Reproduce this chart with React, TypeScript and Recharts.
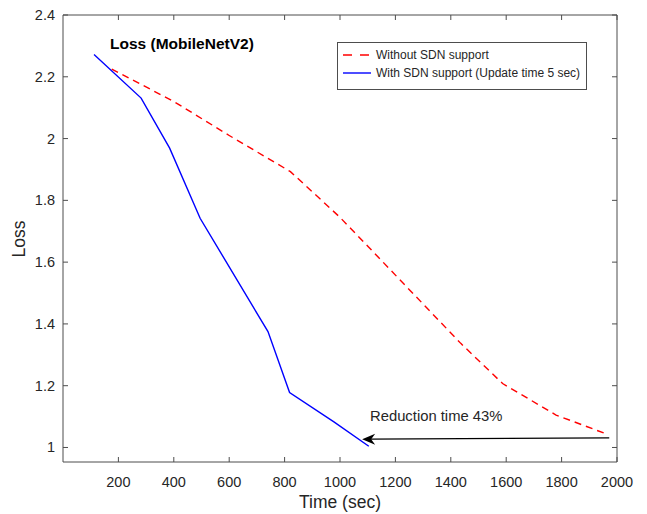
import React from "react";
import {
  LineChart,
  Line,
  XAxis,
  YAxis,
  ReferenceLine,
  ReferenceDot,
} from "recharts";

// Loss vs time
const sdnTime = [112, 282, 385, 495, 740, 818, 978, 1104];
const sdnLoss = [2.272, 2.131, 1.969, 1.742, 1.375, 1.178, 1.083, 1.004];

const baseTime = [176, 400, 600, 821, 1000, 1103, 1436, 1587, 1780, 1967];
const baseLoss = [2.225, 2.12, 2.01, 1.893, 1.745, 1.649, 1.337, 1.207, 1.105, 1.042];

const xTicks = [200, 400, 600, 800, 1000, 1200, 1400, 1600, 1800, 2000];
const yTicks = [1, 1.2, 1.4, 1.6, 1.8, 2, 2.2, 2.4];

const arrowStart = { x: 1972, y: 1.031 };
const arrowEnd = { x: 1080, y: 1.027 };

const W = 647;
const H = 514;
const PLOT = { left: 63, right: 617, top: 15, bottom: 462 };
const AXIS = "#4d4d4d";
const TEXT = "#262626";
const FONT = "'Liberation Sans', Arial, Helvetica, sans-serif";

const sdnData = sdnTime.map((t, i) => ({ t, loss: sdnLoss[i] }));
const baseData = baseTime.map((t, i) => ({ t, loss: baseLoss[i] }));

function XTick(props: any) {
  const { x, payload } = props;
  return (
    <g>
      <line x1={x} x2={x} y1={PLOT.bottom} y2={PLOT.bottom - 5} stroke={AXIS} />
      <line x1={x} x2={x} y1={PLOT.top} y2={PLOT.top + 5} stroke={AXIS} />
      <text x={x} y={PLOT.bottom + 25} textAnchor="middle" fontSize={14.5} fill={TEXT} fontFamily={FONT}>
        {payload.value}
      </text>
    </g>
  );
}

function YTick(props: any) {
  const { y, payload } = props;
  return (
    <g>
      <line x1={PLOT.left} x2={PLOT.left + 5} y1={y} y2={y} stroke={AXIS} />
      <line x1={PLOT.right} x2={PLOT.right - 5} y1={y} y2={y} stroke={AXIS} />
      <text x={55} y={y + 5} textAnchor="end" fontSize={14.5} fill={TEXT} fontFamily={FONT}>
        {String(payload.value)}
      </text>
    </g>
  );
}

function ArrowHead(props: any) {
  const { cx, cy } = props;
  return (
    <path
      d={`M${cx},${cy} L${cx + 13},${cy - 5.5} L${cx + 9},${cy} L${cx + 13},${cy + 5.5} Z`}
      fill="#000"
    />
  );
}

export default function App() {
  return (
    <div style={{ position: "absolute", left: 0, top: 0, width: W, height: H, background: "#fff", fontFamily: FONT }}>
      <LineChart
        width={W}
        height={H}
        margin={{ top: PLOT.top, right: W - PLOT.right, bottom: 0, left: 0 }}
      >
        <XAxis
          dataKey="t"
          type="number"
          domain={[0, 2000]}
          ticks={xTicks}
          allowDataOverflow
          height={H - PLOT.bottom}
          tickLine={false}
          stroke={AXIS}
          tick={<XTick />}
        />
        <YAxis
          type="number"
          domain={[0.953, 2.4]}
          ticks={yTicks}
          allowDataOverflow
          width={PLOT.left}
          tickLine={false}
          stroke={AXIS}
          tick={<YTick />}
        />
        <ReferenceLine y={2.4} stroke={AXIS} ifOverflow="visible" />
        <ReferenceLine x={2000} stroke={AXIS} ifOverflow="visible" />
        <Line
          data={baseData}
          dataKey="loss"
          stroke="#ff0000"
          strokeWidth={1.4}
          strokeDasharray="7 5"
          dot={false}
          isAnimationActive={false}
        />
        <Line
          data={sdnData}
          dataKey="loss"
          stroke="#0000ff"
          strokeWidth={1.4}
          dot={false}
          isAnimationActive={false}
        />
        <ReferenceLine
          segment={[arrowStart, { x: arrowEnd.x + 25, y: arrowEnd.y }]}
          stroke="#000"
          strokeWidth={1.2}
          ifOverflow="visible"
        />
        <ReferenceDot
          x={arrowEnd.x}
          y={arrowEnd.y}
          ifOverflow="visible"
          shape={<ArrowHead />}
        />
      </LineChart>

      <div
        style={{
          position: "absolute",
          left: 110,
          top: 35,
          fontSize: 15.5,
          fontWeight: "bold",
          color: "#000",
          whiteSpace: "nowrap",
        }}
      >
        Loss (MobileNetV2)
      </div>

      <div
        style={{
          position: "absolute",
          left: 370,
          top: 408,
          fontSize: 14.8,
          color: TEXT,
          whiteSpace: "nowrap",
        }}
      >
        Reduction time 43%
      </div>

      <div
        style={{
          position: "absolute",
          left: 337,
          top: 42,
          width: 248,
          height: 46,
          border: `1px solid ${AXIS}`,
          background: "#fff",
          fontSize: 12,
          color: TEXT,
        }}
      >
        <div style={{ position: "absolute", left: 4, top: 5, display: "flex", alignItems: "center", whiteSpace: "nowrap" }}>
          <svg width={30} height={10}>
            <line x1={1} x2={29} y1={5} y2={5} stroke="#ff0000" strokeWidth={1.4} strokeDasharray="9 8" />
          </svg>
          <span style={{ marginLeft: 4 }}>Without SDN support</span>
        </div>
        <div style={{ position: "absolute", left: 4, top: 23, display: "flex", alignItems: "center", whiteSpace: "nowrap" }}>
          <svg width={30} height={10}>
            <line x1={1} x2={29} y1={5} y2={5} stroke="#0000ff" strokeWidth={1.4} />
          </svg>
          <span style={{ marginLeft: 4 }}>With SDN support (Update time 5 sec)</span>
        </div>
      </div>

      <div
        style={{
          position: "absolute",
          left: PLOT.left,
          width: PLOT.right - PLOT.left,
          top: 493,
          lineHeight: "18px",
          textAlign: "center",
          fontSize: 17.5,
          color: TEXT,
        }}
      >
        Time (sec)
      </div>
      <div
        style={{
          position: "absolute",
          left: 19,
          top: (PLOT.top + PLOT.bottom) / 2,
          transform: "translate(-50%, -50%) rotate(-90deg)",
          fontSize: 17.5,
          lineHeight: "18px",
          color: TEXT,
          whiteSpace: "nowrap",
        }}
      >
        Loss
      </div>
    </div>
  );
}
